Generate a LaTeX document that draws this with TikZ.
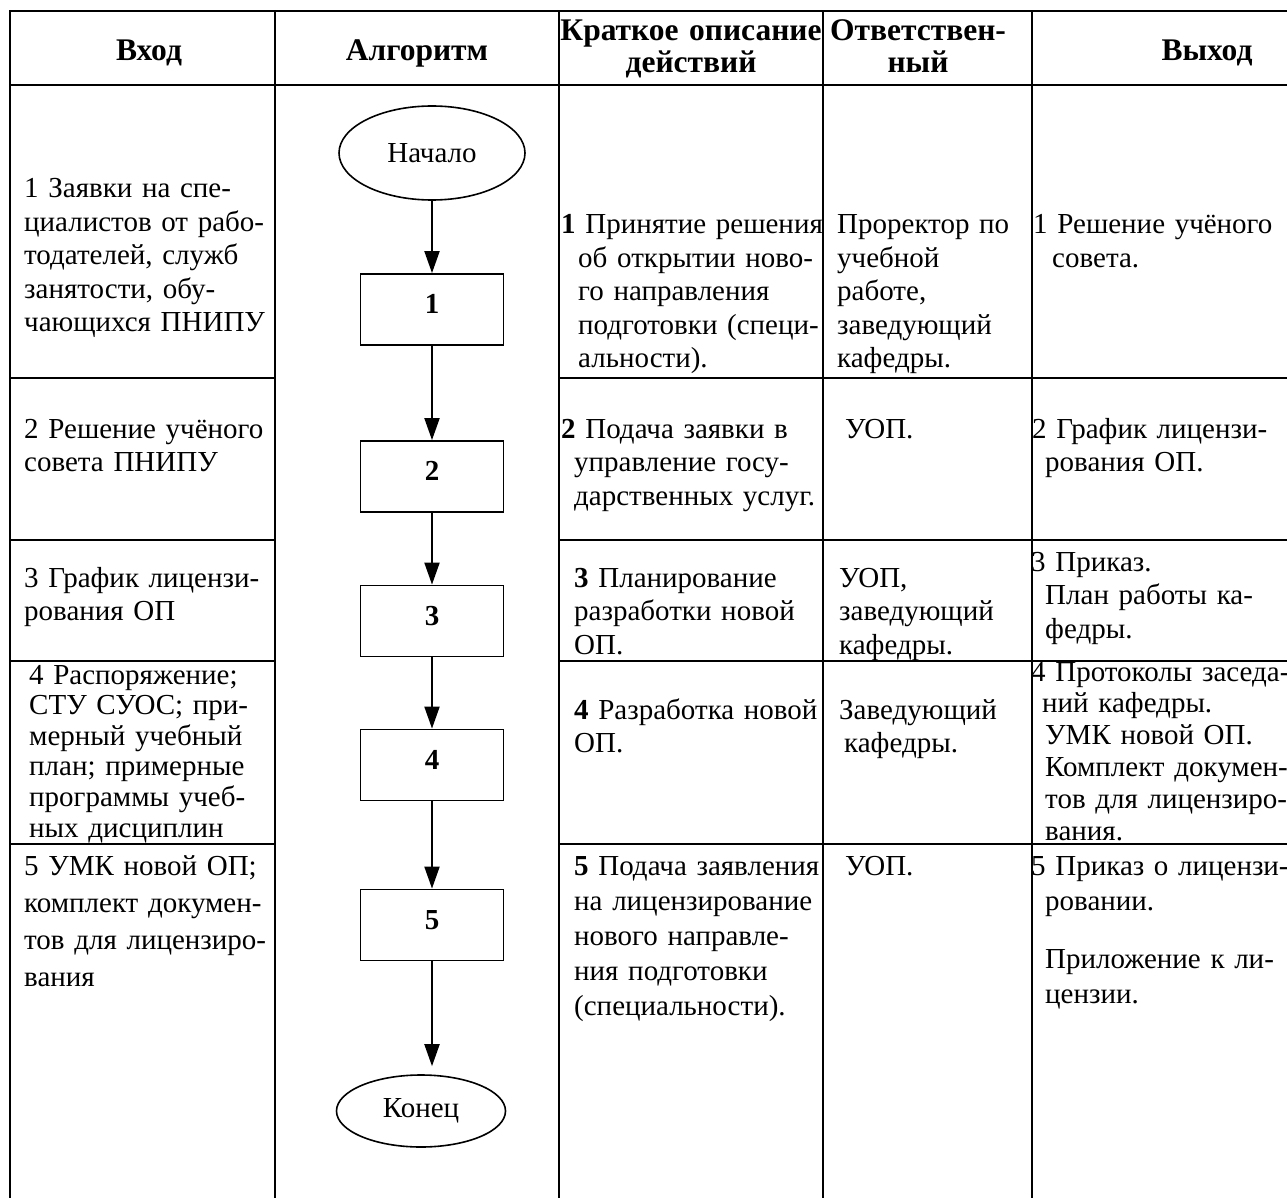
\documentclass[tikz,border=0pt]{standalone}
\usepackage{fontspec}
\setmainfont{Liberation Serif}
\usetikzlibrary{shapes.geometric,arrows.meta}
\begin{document}
\begin{tikzpicture}[x=1pt,y=-1pt,
  tbl/.style={line width=2.5pt,line cap=rect},
  cell/.style={anchor=base west,inner sep=0pt,align=left,text width=320pt,font=\fontsize{29}{33.5}\selectfont},
  hdr/.style={anchor=base,inner sep=0pt,align=center,text width=300pt,font=\fontsize{31.5}{32}\selectfont\bfseries},
  stepbox/.style={draw,line width=1.8pt,minimum width=143pt,minimum height=71pt,inner sep=0pt,font=\fontsize{29}{33}\selectfont\bfseries,text height=14pt,text depth=6pt},
  term/.style={ellipse,draw,line width=1.6pt,inner sep=0pt,font=\fontsize{29}{33}\selectfont},
  flow/.style={line width=2pt,-{Triangle[length=22pt,width=15pt]}}]
\useasboundingbox (0,0) rectangle (1287,1198);
\fill[white] (0,0) rectangle (1287,1198);
% table grid
\draw[tbl] (10,11) -- (1287,11);
\draw[tbl] (10,85) -- (1287,85);
\foreach \yy in {378,540,661,844}{
  \draw[tbl] (10,\yy) -- (275,\yy);
  \draw[tbl] (559,\yy) -- (1287,\yy);
}
\foreach \xx in {10,275,559,823,1032}{
  \draw[tbl] (\xx,11) -- (\xx,1198);
}
% header
\node[hdr] (hin) at (149,61) {Вход};
\node[hdr] (halg) at (417,61) {Алгоритм};
\node[hdr] (hdesc) at (691,41) {Краткое описание\\действий};
\node[hdr] (hresp) at (918,41) {Ответствен-\\ный};
\node[hdr] (hout) at (1207,61) {Выход};
% flowchart
\node[term,minimum width=186pt,minimum height=94pt] (start) at (432,153) {Начало};
\node[stepbox] (b1) at (432,309.5) {1};
\node[stepbox] (b2) at (432,476.5) {2};
\node[stepbox] (b3) at (432,621) {3};
\node[stepbox] (b4) at (432,765) {4};
\node[stepbox] (b5) at (432,925) {5};
\node[term,minimum width=169pt,minimum height=72pt] (end) at (421,1111) {Конец};
\draw[flow] (start.south) -- (b1.north);
\draw[flow] (b1.south) -- (b2.north);
\draw[flow] (b2.south) -- (b3.north);
\draw[flow] (b3.south) -- (b4.north);
\draw[flow] (b4.south) -- (b5.north);
\draw[flow,shorten >=8pt] (b5.south) -- (b5.south |- end.north);
% row 1
\node[cell] (in1) at (24,198) {1 Заявки на спе-\\циалистов от рабо-\\тодателей, служб\\занятости, обу-\\чающихся ПНИПУ};
\node[cell] (d1) at (578,234) {\hspace*{-17pt}\textbf{1} Принятие решения\\об открытии ново-\\го направления\\подготовки (специ-\\альности).};
\node[cell] (r1) at (837,234) {Проректор по\\учебной\\работе,\\заведующий\\кафедры.};
\node[cell] (o1) at (1052,234) {\hspace*{-19pt}1 Решение учёного\\совета.};
% row 2
\node[cell] (in2) at (24,438) {2 Решение учёного\\совета ПНИПУ};
\node[cell] (d2) at (574,438) {\hspace*{-13pt}\textbf{2} Подача заявки в\\управление госу-\\дарственных услуг.};
\node[cell] (r2) at (845,438) {УОП.};
\node[cell] (o2) at (1045,438) {\hspace*{-13pt}2 График лицензи-\\рования ОП.};
% row 3
\node[cell] (in3) at (24,587) {3 График лицензи-\\рования ОП};
\node[cell] (d3) at (574,587) {\textbf{3} Планирование\\разработки новой\\ОП.};
\node[cell] (r3) at (839,587) {УОП,\\заведующий\\кафедры.};
\node[cell] (o3) at (1045,571) {\hspace*{-14pt}3 Приказ.\\План работы ка-\\федры.};
% row 4
\node[cell,font=\fontsize{29}{30.6}\selectfont] (in4) at (29,684) {4 Распоряжение;\\СТУ СУОС; при-\\мерный учебный\\план; примерные\\программы учеб-\\ных дисциплин};
\node[cell] (d4) at (574,719) {\textbf{4} Разработка новой\\ОП.};
\node[cell] (r4) at (839,719) {Заведующий\\\hspace*{5pt}кафедры.};
\node[cell,font=\fontsize{29}{31.8}\selectfont] (o4) at (1045,681) {\hspace*{-14pt}4 Протоколы заседа-\\\hspace*{-3pt}ний кафедры.\\УМК новой ОП.\\Комплект докумен-\\тов для лицензиро-\\вания.};
% row 5
\node[cell,font=\fontsize{29}{37}\selectfont] (in5) at (24,875) {5 УМК новой ОП;\\комплект докумен-\\тов для лицензиро-\\вания};
\node[cell,font=\fontsize{29}{35}\selectfont] (d5) at (574,875) {\textbf{5} Подача заявления\\на лицензирование\\нового направле-\\ния подготовки\\(специальности).};
\node[cell] (r5) at (845,875) {УОП.};
\node[cell,font=\fontsize{29}{35}\selectfont] (o5) at (1045,875) {\hspace*{-14pt}5 Приказ о лицензи-\\ровании.\\[23pt]Приложение к ли-\\цензии.};
\end{tikzpicture}
\end{document}
